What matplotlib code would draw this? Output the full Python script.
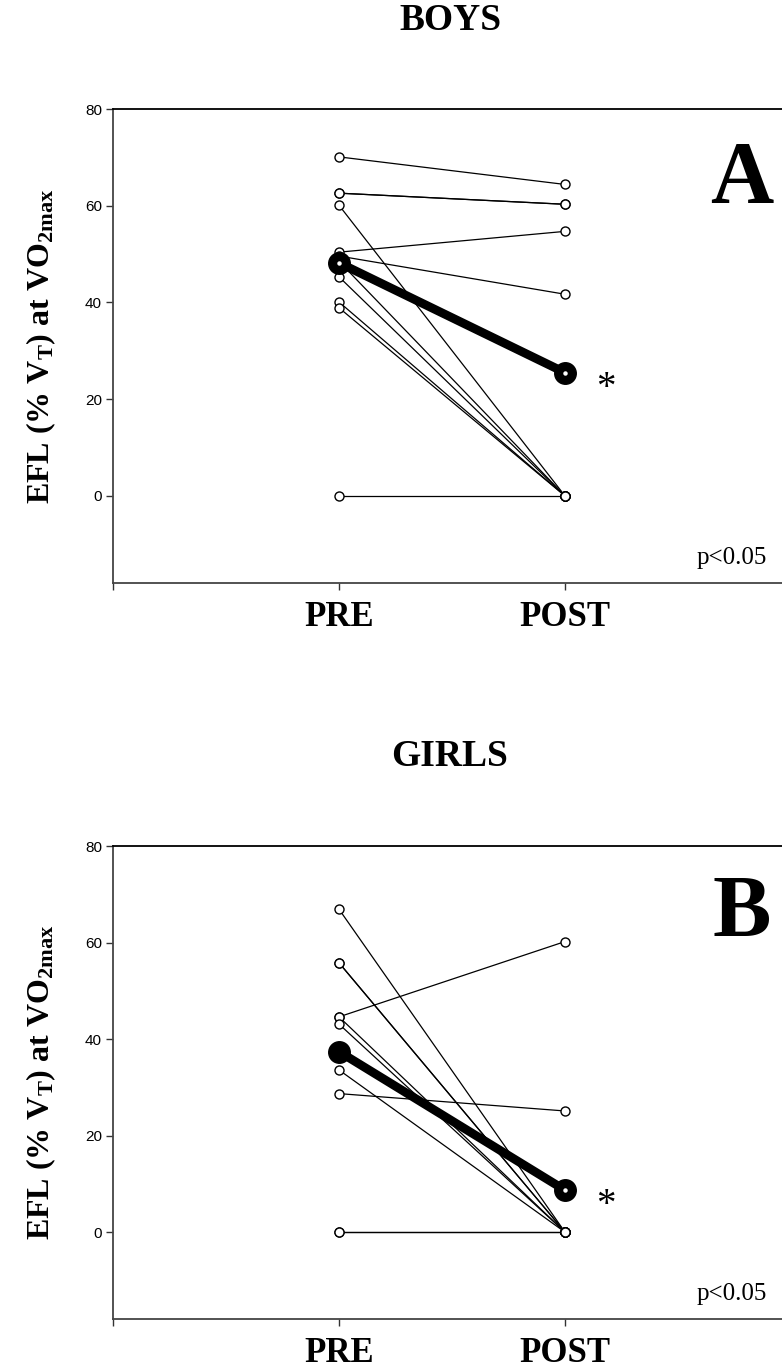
import numpy as np
import matplotlib.pyplot as plt

plt.rcParams['font.family'] = ['Liberation Serif', 'DejaVu Serif']
plt.rcParams['mathtext.fontset'] = 'custom'
plt.rcParams['mathtext.rm'] = 'Liberation Serif:bold'
plt.rcParams['mathtext.it'] = 'Liberation Serif:bold'
plt.rcParams['mathtext.bf'] = 'Liberation Serif:bold'

# individual subjects, EFL (%VT) at VO2max
boys_pre = [70.1, 62.6, 62.6, 60.1, 50.4, 49.6, 48.5, 45.3, 40.1, 38.9, 0]
boys_post = [64.4, 60.3, 60.3, 0, 54.7, 41.7, 0, 0, 0, 0, 0]
boys_mean = [48.2, 25.5]

girls_pre = [66.9, 55.8, 55.8, 44.6, 44.6, 43.1, 33.6, 28.7, 0, 0]
girls_post = [0, 0, 0, 60.2, 0, 0, 0, 25.1, 0, 0]
girls_mean = [37.4, 8.7]

phases = ['PRE', 'POST']
yticks = [0, 20, 40, 60, 80]

W, H = 782, 1369
fig = plt.figure(figsize=(W / 100, H / 100), dpi=100)


def panel(top_px, bot_px, pre, post, mean, letter, letter_y, title, title_y, mean_dot_pre):
    left = 113 / W
    right = 791 / W
    ax = fig.add_axes([left, 1 - bot_px / H, right - left, (bot_px - top_px) / H])
    x = [1, 2]
    for a, b in zip(pre, post):
        ax.plot(x, [a, b], color='black', lw=0.9, zorder=2)
        ax.plot(x, [a, b], 'o', mfc='white', mec='black', ms=6.5, mew=1.0, zorder=3)
    ax.plot(x, mean, color='black', lw=6.3, zorder=4, solid_capstyle='round')
    ax.plot(x, mean, 'o', color='black', ms=15.5, zorder=5)
    dots = [mean_dot_pre, True]
    for xi, yi, d in zip(x, mean, dots):
        if d:
            ax.plot(xi, yi, 'o', color='white', ms=2.2, zorder=6)

    ax.set_xlim(0, 3)
    ax.set_ylim(-18, 80)
    ax.set_xticks([0, 1, 2, 3])
    ax.set_xticklabels(['', phases[0], phases[1], ''], fontsize=25, fontweight='bold')
    ax.set_yticks(yticks)
    ax.set_yticklabels([str(v) for v in yticks], family='Liberation Sans', fontsize=11)
    ax.tick_params(axis='both', direction='out', length=5, width=1, color='#333333')
    ax.tick_params(axis='x', pad=8)
    ax.tick_params(axis='y', pad=3)
    for s in ['left', 'bottom']:
        ax.spines[s].set_color('#444444')
        ax.spines[s].set_linewidth(1.3)
    ax.spines['top'].set_linewidth(1.3)
    ax.spines['right'].set_visible(False)

    ax.set_ylabel(r'EFL (% V$_\mathrm{T}$) at VO$_\mathrm{2max}$', fontsize=23,
                  fontweight='bold', labelpad=19)

    ax.text(2.18, mean[1] - 3.2, '*', fontsize=28, ha='center', va='center')
    ax.text(2.78, letter_y, letter, fontsize=63, fontweight='bold', ha='center', va='top')
    ax.text(2.74, -12.8, 'p<0.05', fontsize=18, ha='center', va='center')

    fig.text(450 / W, 1 - title_y / H, title, fontsize=27, fontweight='bold',
             ha='center', va='center')
    return ax


panel(109, 583, boys_pre, boys_post, boys_mean, 'A', 73.6, 'BOYS', 21, True)
panel(846, 1319, girls_pre, girls_post, girls_mean, 'B', 74.2, 'GIRLS', 757, False)

fig.savefig('out.png', dpi=100)
